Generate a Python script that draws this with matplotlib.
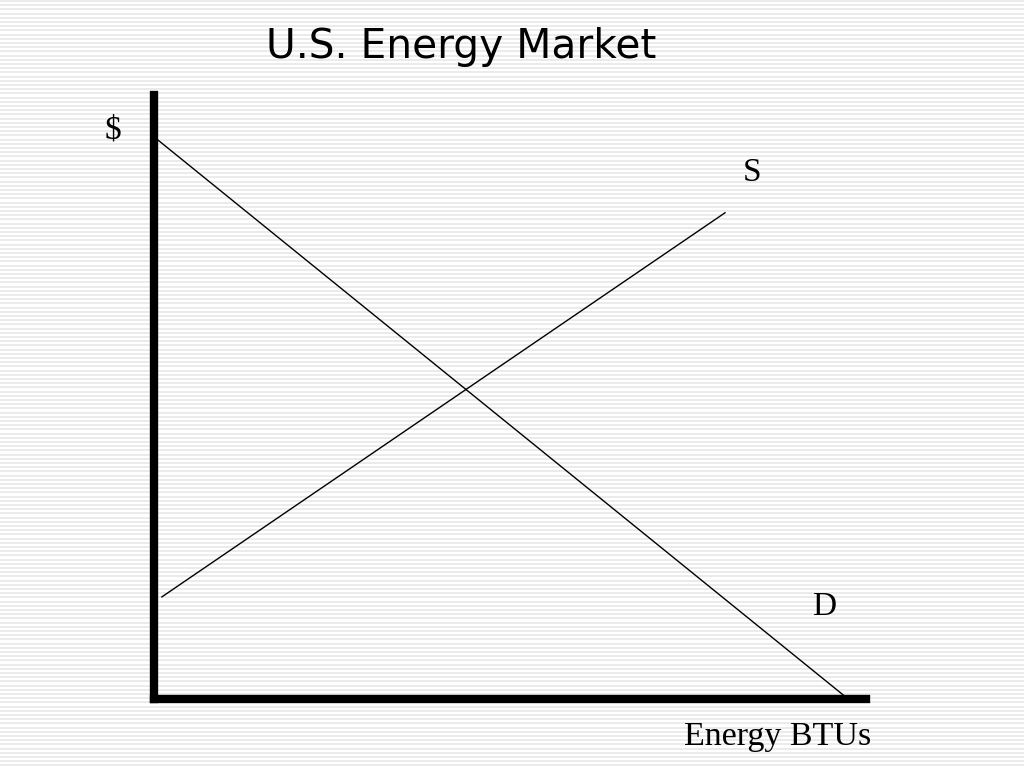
import numpy as np
import matplotlib.pyplot as plt

# demand and supply lines (quantity, price), axes run 0..10
demand_q = [0.06, 9.75]
demand_p = [9.25, 0.0]
supply_q = [0.11, 8.02]
supply_p = [1.69, 8.05]

W, H = 1024, 768
fig = plt.figure(figsize=(W / 100, H / 100), dpi=100)

# striped slide background
bg = fig.add_axes([0, 0, 1, 1])
bg.set_xlim(0, W)
bg.set_ylim(H, 0)
bg.axis('off')
bg.hlines(np.arange(1, H, 4.2), 0, W, color='#e8e8e8', lw=1.2)

fig.text(461 / W, 1 - 47 / H, "U.S. Energy Market", fontsize=29.3,
         ha='center', va='center', family='DejaVu Sans')

ax = fig.add_axes([154 / W, 1 - 699 / H, (866 - 154) / W, (699 - 95) / H])
ax.patch.set_visible(False)
ax.set_xlim(0, 10)
ax.set_ylim(0, 10)
for s in ['top', 'right']:
    ax.spines[s].set_visible(False)
for s in ['left', 'bottom']:
    ax.spines[s].set_linewidth(6)
    ax.spines[s].set_color('black')
ax.set_xticks([])
ax.set_yticks([])

ax.plot(demand_q, demand_p, color='black', lw=1.0)
ax.plot(supply_q, supply_p, color='black', lw=1.0)

serif = 'Liberation Serif'
fig.text(113 / W, 1 - 130 / H, "$", fontsize=24, family=serif, ha='center', va='center')
fig.text(752 / W, 1 - 173 / H, "S", fontsize=24, family=serif, ha='center', va='center')
fig.text(824 / W, 1 - 607 / H, "D", fontsize=24, family=serif, ha='center', va='center')
fig.text(778 / W, 1 - 737 / H, "Energy BTUs", fontsize=24.5, family=serif, ha='center', va='center')

fig.savefig("out.png", dpi=100)
